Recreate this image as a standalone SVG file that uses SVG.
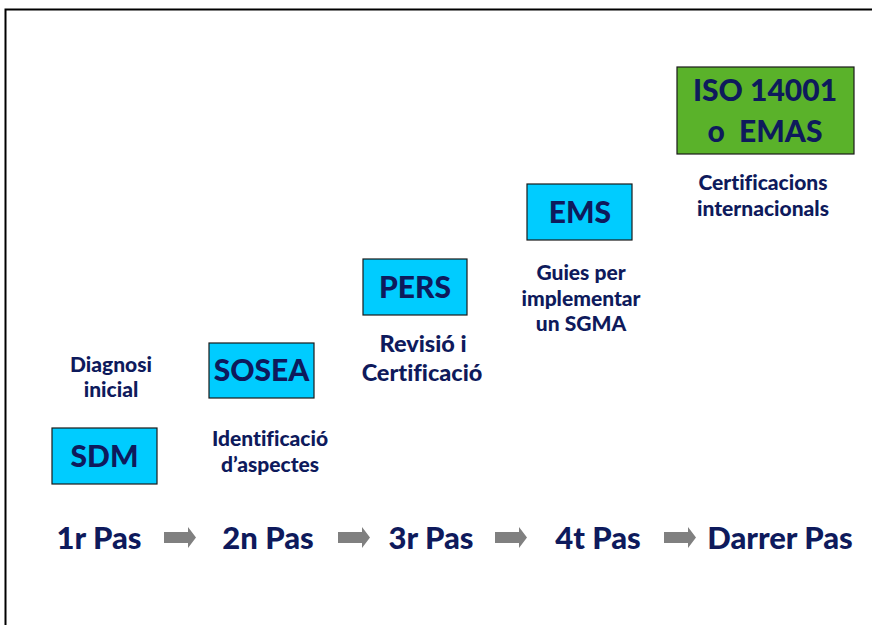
<svg xmlns="http://www.w3.org/2000/svg" width="872" height="625" viewBox="0 0 872 625">
  <style>
    .box { fill: #00ccff; stroke: #1a1a1a; stroke-width: 1.2; }
    .iso { fill: #5ab22a; stroke: #1a1a1a; stroke-width: 1.2; }
    text { font-family: Lato, "Open Sans", "DejaVu Sans", sans-serif; font-weight: 900; fill: #0e1a5c; text-anchor: middle; font-variant-ligatures: none; }
    .big { font-size: 30px; }
    .lbl { font-size: 21px; }
    .lbl2 { font-size: 23.5px; }
    .step { font-size: 31px; }
    .arrow { fill: #808080; }
  </style>
  <defs>
    <path id="step-arrow" d="M0,5 H24 V0 L32,10.5 L24,21 V16 H0 Z"/>
  </defs>

  <rect width="872" height="625" fill="#ffffff"/>
  <!-- frame -->
  <path d="M5.5,625 V9.5 H872" fill="none" stroke="#000" stroke-width="2"/>

  <g id="sdm">
    <rect class="box" x="52" y="428" width="105" height="56"/>
    <text class="big" x="104.5" y="467">SDM</text>
    <text class="lbl" x="111" y="372">Diagnosi</text>
    <text class="lbl" x="111" y="397">inicial</text>
  </g>

  <g id="sosea">
    <rect class="box" x="209" y="343" width="105" height="55"/>
    <text class="big" x="261.5" y="381">SOSEA</text>
    <text class="lbl" x="270" y="446">Identificació</text>
    <text class="lbl" x="270" y="472">d’aspectes</text>
  </g>

  <g id="pers">
    <rect class="box" x="363" y="259" width="104" height="56"/>
    <text class="big" x="415" y="298">PERS</text>
    <text class="lbl2" x="423" y="352">Revisió i</text>
    <text class="lbl2" x="422" y="381">Certificació</text>
  </g>

  <g id="ems">
    <rect class="box" x="527" y="184" width="105" height="56"/>
    <text class="big" x="580" y="223">EMS</text>
    <text class="lbl" x="581" y="280">Guies per</text>
    <text class="lbl" x="581" y="306">implementar</text>
    <text class="lbl" x="581" y="331">un SGMA</text>
  </g>

  <g id="iso">
    <rect class="iso" x="677" y="67" width="177" height="87"/>
    <text class="big" x="765" y="101">ISO 14001</text>
    <text class="big" x="765" y="142" xml:space="preserve">o  EMAS</text>
    <text class="lbl" x="763" y="190">Certificacions</text>
    <text class="lbl" x="763" y="216">internacionals</text>
  </g>

  <g id="steps">
    <text class="step" x="99" y="549">1r Pas</text>
    <text class="step" x="268" y="549">2n Pas</text>
    <text class="step" x="431" y="549">3r Pas</text>
    <text class="step" x="598" y="549">4t Pas</text>
    <text class="step" x="780" y="549">Darrer Pas</text>
  </g>

  <g id="connectors" class="arrow">
    <use href="#step-arrow" x="164" y="527"/>
    <use href="#step-arrow" x="338" y="527"/>
    <use href="#step-arrow" x="495" y="527"/>
    <use href="#step-arrow" x="664" y="527"/>
  </g>
</svg>
